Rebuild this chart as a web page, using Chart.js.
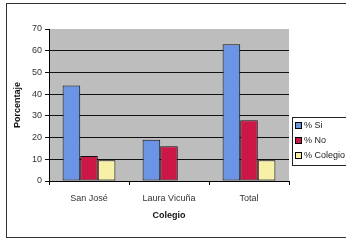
<!DOCTYPE html>
<html>
<head>
<meta charset="utf-8">
<script src="https://cdn.jsdelivr.net/npm/chart.js@4"></script>
<style>
  html, body { margin: 0; padding: 0; background: #fff; }
  #wrap { width: 346px; height: 241px; position: relative; }
</style>
</head>
<body>
<div id="wrap"><canvas id="chart" width="346" height="241"></canvas></div>
<script>
const colegios = ["San José", "Laura Vicuña", "Total"];
const porcSi = [44, 19, 63];
const porcNo = [11.5, 16, 28];
const porcColegio = [9.5, 0, 9.5];
const yTicks = [0, 10, 20, 30, 40, 50, 60, 70];

const font = { family: "'Liberation Sans', Arial, sans-serif", size: 9 };

// gray plot background + outer frame
const framePlugin = {
  id: "frame",
  beforeDraw(c) {
    const ctx = c.ctx, a = c.chartArea;
    ctx.save();
    ctx.fillStyle = "#fff";
    ctx.fillRect(0, 0, c.width, c.height);
    ctx.fillStyle = "#bdbdbd";
    ctx.fillRect(a.left, a.top, a.right - a.left, a.bottom - a.top);
    ctx.strokeStyle = "#333";
    ctx.lineWidth = 1;
    ctx.strokeRect(6.5, 3.5, c.width, 234);
    ctx.restore();
  }
};

// legend drawn in the box on the right
const legendPlugin = {
  id: "boxLegend",
  afterDraw(c) {
    const ctx = c.ctx;
    ctx.save();
    ctx.fillStyle = "#fff";
    ctx.fillRect(292, 117, 60, 48);
    ctx.strokeStyle = "#222";
    ctx.lineWidth = 1;
    ctx.strokeRect(292.5, 117.5, 60, 48);
    ctx.font = "9px " + font.family;
    ctx.textBaseline = "middle";
    c.data.datasets.forEach((ds, i) => {
      const y = 126 + i * 15;
      ctx.fillStyle = ds.backgroundColor;
      ctx.fillRect(295, y - 4, 7, 7);
      ctx.strokeStyle = "#000";
      ctx.strokeRect(295.5, y - 3.5, 6, 6);
      ctx.fillStyle = "#222";
      ctx.fillText(ds.label, 304, y);
    });
    ctx.restore();
  }
};

new Chart(document.getElementById("chart"), {
  type: "bar",
  data: {
    labels: colegios,
    datasets: [
      { label: "% Si", data: porcSi, backgroundColor: "#6b94e4" },
      { label: "% No", data: porcNo, backgroundColor: "#cc1747" },
      { label: "% Colegio", data: porcColegio, backgroundColor: "#f8f0a6" }
    ]
  },
  options: {
    responsive: false,
    animation: false,
    devicePixelRatio: 1,
    layout: { padding: { left: 10, right: 57, top: 29, bottom: 16 } },
    datasets: {
      bar: {
        borderColor: "#111",
        borderWidth: 1,
        borderSkipped: false,
        categoryPercentage: 0.66,
        barPercentage: 1
      }
    },
    plugins: {
      legend: { display: false },
      tooltip: { enabled: false }
    },
    scales: {
      x: {
        afterFit(s) { s.height = 44; },
        grid: { drawOnChartArea: false, drawTicks: true, tickLength: 4, color: "#000", offset: true },
        border: { color: "#000", width: 1 },
        ticks: { color: "#333", font: font, padding: 8 },
        title: { display: true, text: "Colegio", color: "#111", font: { family: font.family, size: 9, weight: "bold" }, padding: { top: 4 } }
      },
      y: {
        min: 0,
        max: 70,
        afterFit(s) { s.width = 39; },
        afterBuildTicks(s) { s.ticks = yTicks.map(v => ({ value: v })); },
        grid: {
          color: ctx => (ctx.tick && ctx.tick.value === 70 ? "rgba(0,0,0,0)" : "#111"),
          tickColor: "#111",
          lineWidth: 1, tickLength: 4, drawTicks: true
        },
        border: { color: "#000", width: 1 },
        ticks: { color: "#333", font: font, padding: 3 },
        title: { display: true, text: "Porcentaje", color: "#111", font: { family: font.family, size: 9, weight: "bold" }, padding: { top: 2, bottom: 4 } }
      }
    }
  },
  plugins: [framePlugin, legendPlugin]
});
</script>
</body>
</html>
